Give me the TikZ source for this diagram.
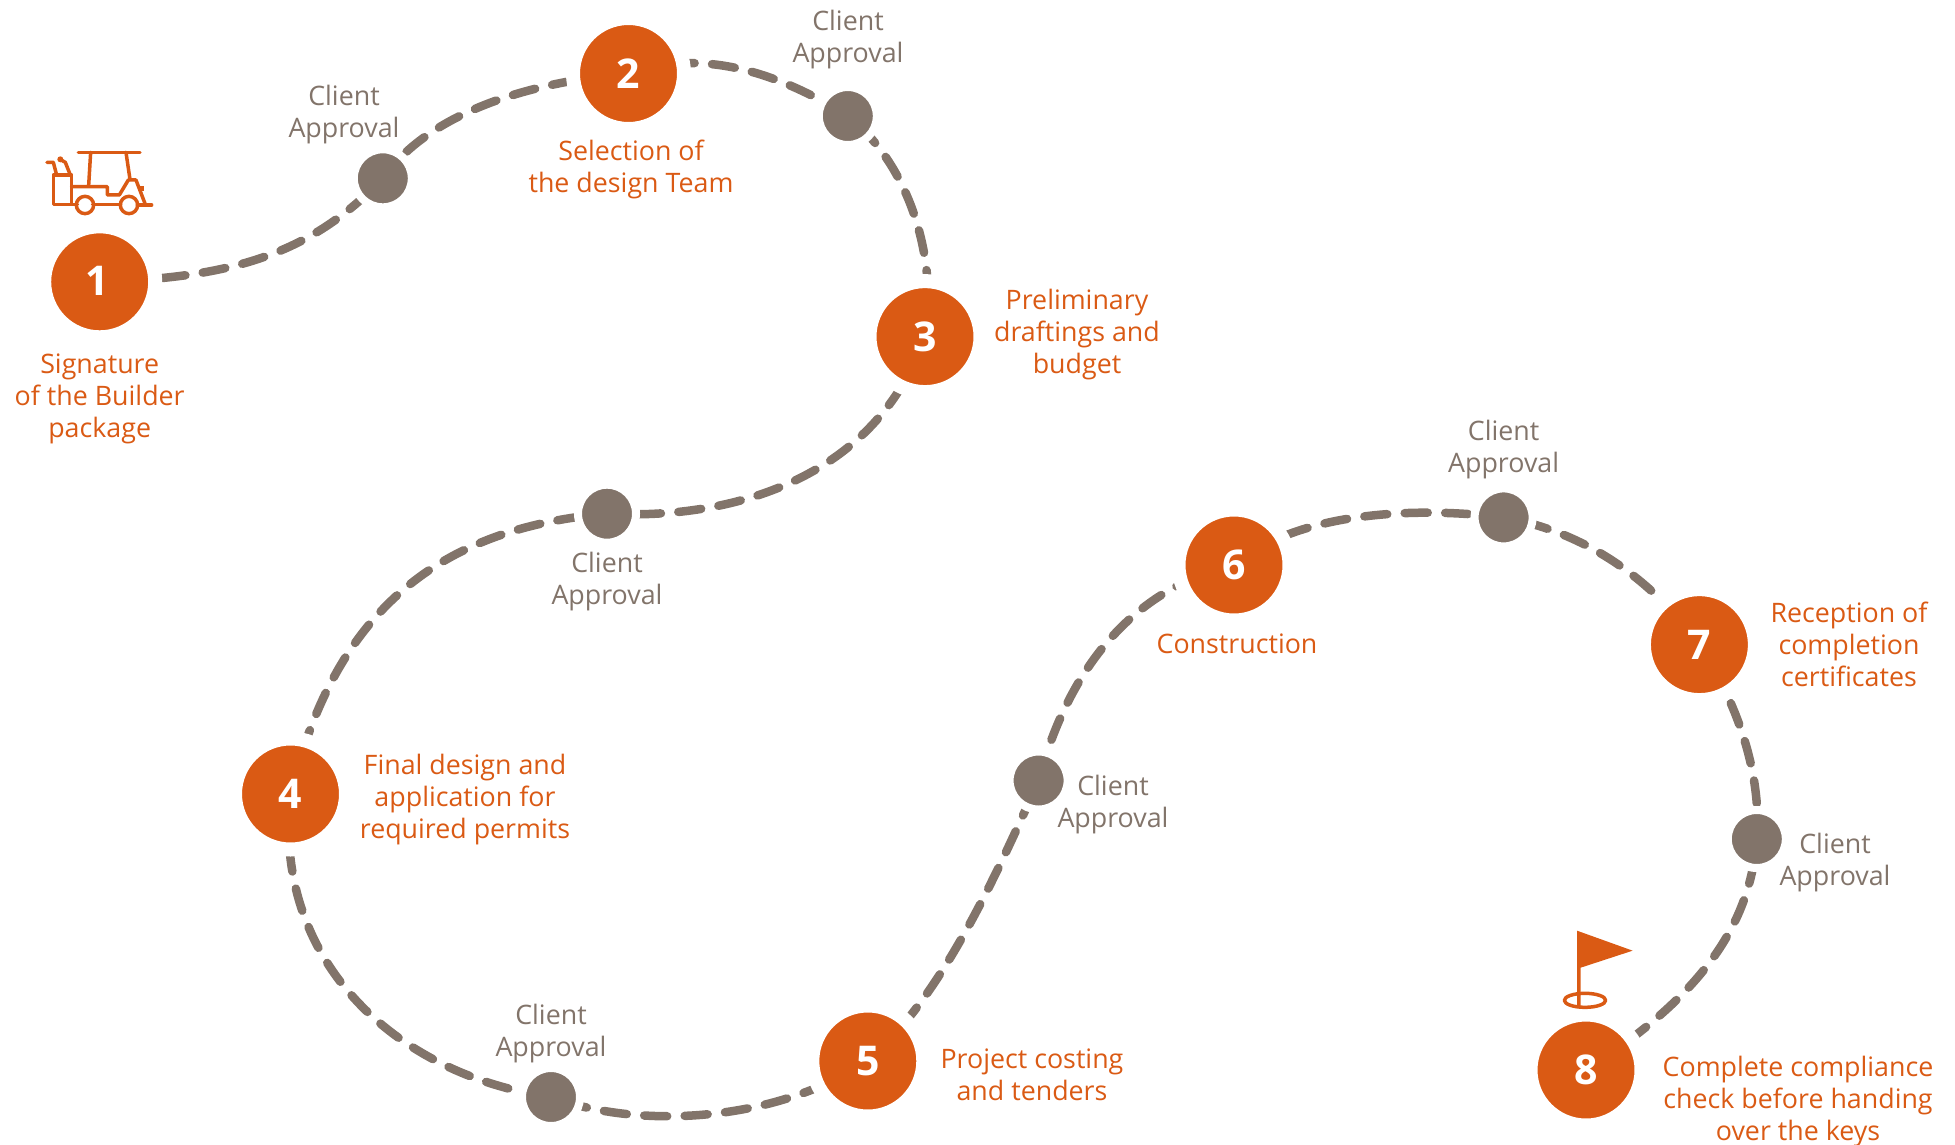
\documentclass[tikz,border=0pt]{standalone}
\usepackage{fontspec}
\usetikzlibrary{backgrounds}
\setmainfont{Open Sans}
\definecolor{brandorange}{HTML}{DA5A14}
\definecolor{brandgray}{HTML}{82746A}
\tikzset{
  stepnode/.style={circle,fill=brandorange,draw=white,line width=14pt,outer sep=0pt,minimum size=111pt,inner sep=0pt,text=white,font=\fontsize{41}{41}\selectfont\bfseries},
  gate/.style={circle,fill=brandgray,draw=white,line width=8pt,outer sep=0pt,minimum size=58pt,inner sep=0pt},
  steplabel/.style={align=center,text=brandorange,inner sep=0pt,font=\fontsize{26.8}{32}\selectfont},
  gatelabel/.style={align=center,text=brandgray,inner sep=0pt,font=\fontsize{26.8}{32}\selectfont},
  trail/.style={draw=brandgray,line width=8.5pt,line cap=round,dash pattern=on 23pt off 17.5pt,dash phase=18pt},
  icon/.style={draw=brandorange,line width=3.5pt,line cap=round,line join=round}
}
\begin{document}
\begin{tikzpicture}[x=1pt,y=-1pt]
\useasboundingbox (0,0) rectangle (1955,1144);
\node[stepnode] (n1) at (99.7,281.8) {\raisebox{2pt}{1}\kern5pt};
\node[stepnode] (n2) at (628.5,73.5) {2};
\node[stepnode] (n3) at (925,336.6) {3};
\node[stepnode] (n4) at (290.5,794) {4};
\node[stepnode] (n5) at (867.8,1061) {5};
\node[stepnode] (n6) at (1234,565) {6};
\node[stepnode] (n7) at (1699.4,644.6) {7};
\node[stepnode] (n8) at (1586,1070) {8};
\node[gate] (g1) at (382.8,178.3) {};
\node[gate] (g2) at (847.8,116) {};
\node[gate] (g3) at (607,513.7) {};
\node[gate] (g4) at (551,1097) {};
\node[gate] (g5) at (1038.6,780.5) {};
\node[gate] (g6) at (1503.6,517.4) {};
\node[gate] (g7) at (1756.8,839) {};
\begin{scope}[on background layer]
\draw[trail] (n1.center)
  .. controls (230,278) and (310,255) .. (g1.center)
  .. controls (430,112) and (530,82) .. (n2.center)
  .. controls (710,45) and (790,80) .. (g2.center)
  .. controls (910,165) and (938,260) .. (n3.center)
  .. controls (875,480) and (730,520) .. (g3.center)
  .. controls (440,528) and (335,610) .. (n4.center)
  .. controls (272,960) and (395,1075) .. (g4.center)
  .. controls (640,1130) and (775,1122) .. (n5.center)
  .. controls (938,1000) and (990,890) .. (g5.center)
  .. controls (1065,680) and (1125,590) .. (n6.center)
  .. controls (1300,510) and (1420,507) .. (g6.center)
  .. controls (1575,530) and (1645,570) .. (n7.center)
  .. controls (1735,700) and (1762,770) .. (g7.center)
  .. controls (1750,930) and (1695,1000) .. (n8.center);
\end{scope}
\node[gatelabel] (c1) at (344,115) {Client\\Approval};
\node[gatelabel] (c2) at (848,40) {Client\\Approval};
\node[gatelabel] (c3) at (607,581.5) {Client\\Approval};
\node[gatelabel] (c4) at (551,1034) {Client\\Approval};
\node[gatelabel] (c5) at (1113,805) {Client\\Approval};
\node[gatelabel] (c6) at (1503.6,450) {Client\\Approval};
\node[gatelabel] (c7) at (1835,863) {Client\\Approval};
\node[steplabel] (l1) at (99.7,398.5) {Signature\\of the Builder\\package};
\node[steplabel] (l2) at (631,169) {Selection of\\the design Team};
\node[steplabel] (l3) at (1077,335) {Preliminary\\draftings and\\budget};
\node[steplabel] (l4) at (465,800) {Final design and\\application for\\required permits};
\node[steplabel] (l5) at (1032,1075) {Project costing\\and tenders};
\node[steplabel] (l6) at (1237,644) {Construction};
\node[steplabel] (l7) at (1849,644.5) {Reception of\\completion\\certificates};
\node[steplabel] (l8) at (1798,1102) {Complete compliance\\check before handing\\over the keys};
% golf cart
\begin{scope}[shift={(0,120)},x=0.3333pt,y=-0.3333pt]
\draw[icon] (235,97) -- (420,97);
\draw[icon] (272,97) -- (266,197);
\draw[icon] (378,97) -- (390,178);
\draw[icon] (160,165) rectangle (215,253);
\draw[icon] (215,200) -- (322,200) -- (322,225) -- (358,225) -- (385,180) -- (408,180) -- (436,253);
\draw[icon] (215,253) -- (232,253);
\draw[icon] (278,253) -- (362,253);
\draw[icon] (412,255) -- (455,255);
\draw[icon] (255,255) circle (26);
\draw[icon] (387,255) circle (26);
\draw[icon] (141,127) -- (160,127) -- (170,165);
\draw[icon] (180,118) -- (196,127) -- (211,165);
\fill[brandorange] (181,118) circle (9);
\fill[brandorange] (415,199) rectangle (433,214);
\end{scope}
% flag
\begin{scope}[shift={(1500,900)},x=0.3333pt,y=-0.3333pt]
\fill[brandorange] (231,92) -- (398,152) -- (242,203) -- (242,320) -- (231,320) -- cycle;
\draw[icon] (255,301) ellipse (62 and 21);
\end{scope}
\end{tikzpicture}
\end{document}
